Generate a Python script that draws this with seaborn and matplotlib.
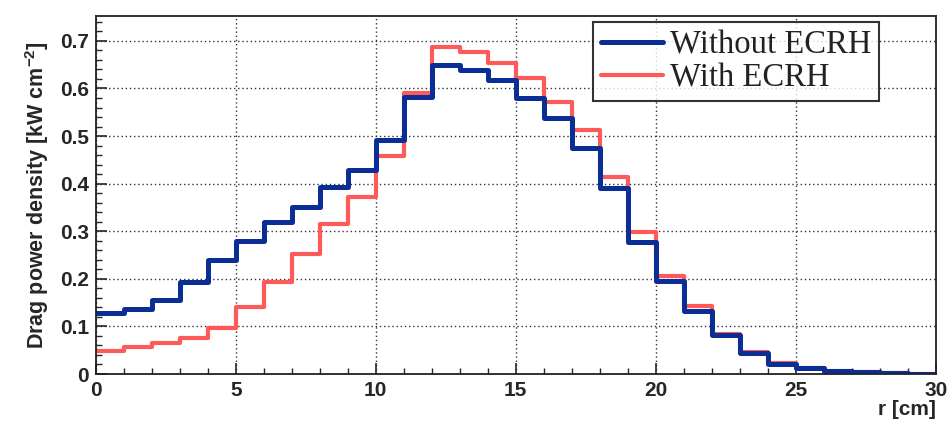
import numpy as np
import pandas as pd
import seaborn as sns
import matplotlib.pyplot as plt
from matplotlib.ticker import MultipleLocator

# radial bins, 1 cm wide, 0..30 cm
r_centers = np.arange(0.5, 30, 1.0)

without_ecrh = [0.129, 0.136, 0.155, 0.194, 0.240, 0.280, 0.320, 0.351, 0.392, 0.429,
                0.492, 0.583, 0.649, 0.639, 0.618, 0.580, 0.537, 0.475, 0.391, 0.278,
                0.195, 0.132, 0.083, 0.045, 0.022, 0.012, 0.006, 0.004, 0.002, 0.001]
with_ecrh = [0.048, 0.057, 0.066, 0.076, 0.096, 0.140, 0.194, 0.252, 0.315, 0.372,
             0.458, 0.591, 0.688, 0.677, 0.654, 0.621, 0.572, 0.513, 0.415, 0.299,
             0.206, 0.143, 0.085, 0.046, 0.023, 0.013, 0.006, 0.004, 0.002, 0.001]

df = pd.DataFrame({'r': r_centers, 'without': without_ecrh, 'with': with_ecrh})

sns.set_style('white')
plt.rcParams['font.family'] = ['Liberation Sans', 'DejaVu Sans']
plt.rcParams['mathtext.fontset'] = 'custom'
plt.rcParams['mathtext.bf'] = 'Liberation Sans:bold'
plt.rcParams['mathtext.rm'] = 'Liberation Sans'

fig = plt.figure(figsize=(9.49, 4.25), dpi=100)
ax = fig.add_axes([0.101, 0.12, 0.885, 0.842])

sns.histplot(data=df, x='r', weights='with', binwidth=1, binrange=(0, 30), element='step',
             fill=False, color='#ff5a5a', linewidth=3.0, label='With ECRH', ax=ax)
sns.histplot(data=df, x='r', weights='without', binwidth=1, binrange=(0, 30), element='step',
             fill=False, color='#0b2d96', linewidth=3.6, label='Without ECRH', ax=ax)

ax.set_xlim(0, 30)
ax.set_ylim(0, 0.752)
ax.xaxis.set_major_locator(MultipleLocator(5))
ax.xaxis.set_minor_locator(MultipleLocator(1))
ax.yaxis.set_minor_locator(MultipleLocator(0.02))
ax.set_yticks(np.arange(0, 0.71, 0.1))
ax.set_yticklabels(['0', '0.1', '0.2', '0.3', '0.4', '0.5', '0.6', '0.7'])
ax.tick_params(which='major', direction='in', length=8, width=1.2, labelsize=15, pad=5)
ax.tick_params(which='minor', direction='in', length=4, width=1.0)
ax.tick_params(axis='both', which='both', top=False, right=False, left=True, bottom=True)
for lab in ax.get_xticklabels() + ax.get_yticklabels():
    lab.set_fontweight('bold')
ax.grid(True, which='major', color='#333333', linestyle=(0, (1, 2)), linewidth=1.0)
for s in ax.spines.values():
    s.set_color('#222222')
    s.set_linewidth(1.3)

ax.set_xlabel('r [cm]', fontsize=15, fontweight='bold', loc='right', labelpad=0)
ax.set_ylabel(r'Drag power density [kW cm$^{\mathbf{-2}}$]', fontsize=15.5,
              fontweight='bold', labelpad=6)

handles, labels = ax.get_legend_handles_labels()
order = [labels.index('Without ECRH'), labels.index('With ECRH')]
leg = ax.legend([handles[i] for i in order], [labels[i] for i in order],
                loc='upper left', bbox_to_anchor=(0.592, 0.983),
                prop={'family': 'Liberation Serif', 'size': 23.5},
                frameon=True, fancybox=False, edgecolor='black',
                handlelength=1.9, handletextpad=0.2, borderpad=0.25, labelspacing=0.05,
                borderaxespad=0)
leg.get_frame().set_linewidth(1.5)
for t in leg.get_texts():
    t.set_color('#222222')

fig.savefig('out.png', dpi=100)
